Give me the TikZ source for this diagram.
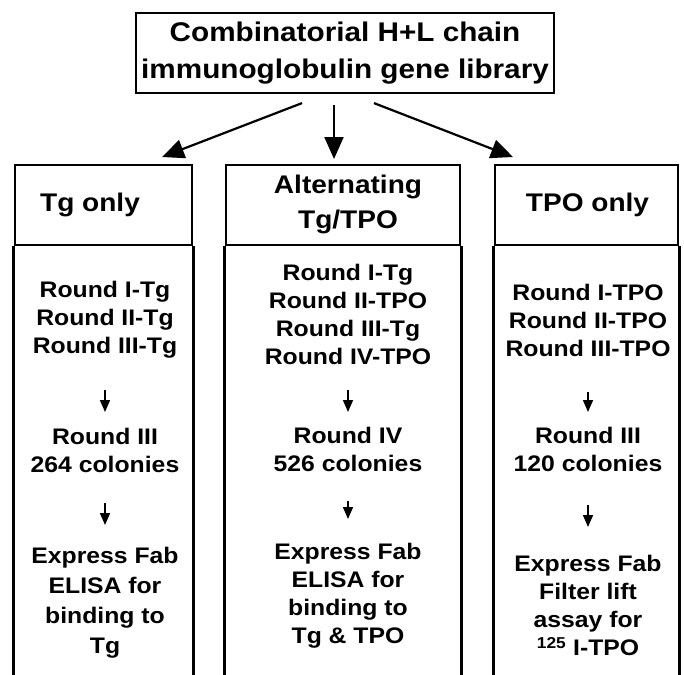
\documentclass[tikz,border=0pt]{standalone}
\usepackage{fontspec}
\setmainfont{Liberation Sans}[FakeStretch=1.1]
\usetikzlibrary{arrows.meta}

\begin{document}
\begin{tikzpicture}[x=1pt, y=-1pt,
    frame/.style={line width=2.8pt},
    headbox/.style={draw, line width=2.8pt, minimum height=80pt, inner sep=0pt},
    headtxt/.style={font=\bfseries\fontsize{25.5}{35}\selectfont, align=center, inner sep=0pt},
    txt/.style={font=\bfseries\fontsize{22.5}{28}\selectfont, align=center, inner sep=0pt},
    bigarrow/.style={line width=2.2pt, -{Triangle[length=22pt, width=19pt]}},
    smallarrow/.style={line width=1.6pt, -{Triangle[length=12pt, width=10pt]}}]
    \useasboundingbox (0,0) rectangle (684,674);
    \node[draw, line width=2.2pt, minimum width=418pt, minimum height=80pt, inner sep=0pt, align=center, font=\bfseries\fontsize{27}{37}\selectfont] (lib) at (345,53) {Combinatorial H+L chain\\immunoglobulin gene library};

    \node[headbox, minimum width=177pt] (tgbox) at (103.5,205) {};
    \node[headbox, minimum width=234pt] (altbox) at (343,205) {};
    \node[headbox, minimum width=183pt] (tpobox) at (586.5,205) {};
    \node[headtxt] (tghead) at (90,205) {Tg only};
    \node[headtxt] (althead) at (348,204.5) {Alternating\\Tg/TPO};
    \node[headtxt] (tpohead) at (587.5,205) {TPO only};
    \foreach \b in {tgbox, altbox, tpobox} {
        \draw[frame] (\b.south west) -- (\b.south west |- 0,680);
        \draw[frame] (\b.south east) -- (\b.south east |- 0,680);
    }

    \coordinate (tgtip) at (162,157);
    \coordinate (alttip) at (334,159);
    \coordinate (tpotip) at (513,157);
    \draw[bigarrow] ([xshift=-43pt, yshift=-9pt]lib.south) -- (tgtip);
    \draw[bigarrow] ([xshift=-11pt, yshift=-11pt]lib.south) -- (alttip);
    \draw[bigarrow] ([xshift=29pt, yshift=-9pt]lib.south) -- (tpotip);

    \node[txt] (tgrounds) at (105,319.5) {Round I-Tg\\Round II-Tg\\Round III-Tg};
    \node[txt] (tgiii) at (105,450.5) {Round III\\264 colonies};
    \node[txt, font=\bfseries\fontsize{22.5}{30}\selectfont] (tgfab) at (105,603) {Express Fab\\ELISA for\\binding to\\Tg};
    \draw[smallarrow, shorten <=70.5pt, shorten >=38.5pt] (tgrounds.center) -- (tgiii.center);
    \draw[smallarrow, shorten <=52.5pt, shorten >=78pt] (tgiii.center) -- (tgfab.center);

    \node[txt] (altrounds) at (348,314) {Round I-Tg\\Round II-TPO\\Round III-Tg\\Round IV-TPO};
    \node[txt] (altiv) at (348,449) {Round IV\\526 colonies};
    \node[txt] (altfab) at (348,595.5) {Express Fab\\ELISA for\\binding to\\Tg \& TPO};
    \draw[smallarrow, shorten <=76pt, shorten >=37pt] (altrounds.center) -- (altiv.center);
    \draw[smallarrow, shorten <=52pt, shorten >=76.5pt] (altiv.center) -- (altfab.center);

    \node[txt] (tporounds) at (588,320) {Round I-TPO\\Round II-TPO\\Round III-TPO};
    \node[txt] (tpoiii) at (588,449.5) {Round III\\120 colonies};
    \node[txt] (tpofab) at (588,605.5) {Express Fab\\Filter lift\\assay for\\\textsuperscript{125} I-TPO};
    \draw[smallarrow, shorten <=72pt, shorten >=37.5pt] (tporounds.center) -- (tpoiii.center);
    \draw[smallarrow, shorten <=55.5pt, shorten >=78.5pt] (tpoiii.center) -- (tpofab.center);
\end{tikzpicture}
\end{document}
